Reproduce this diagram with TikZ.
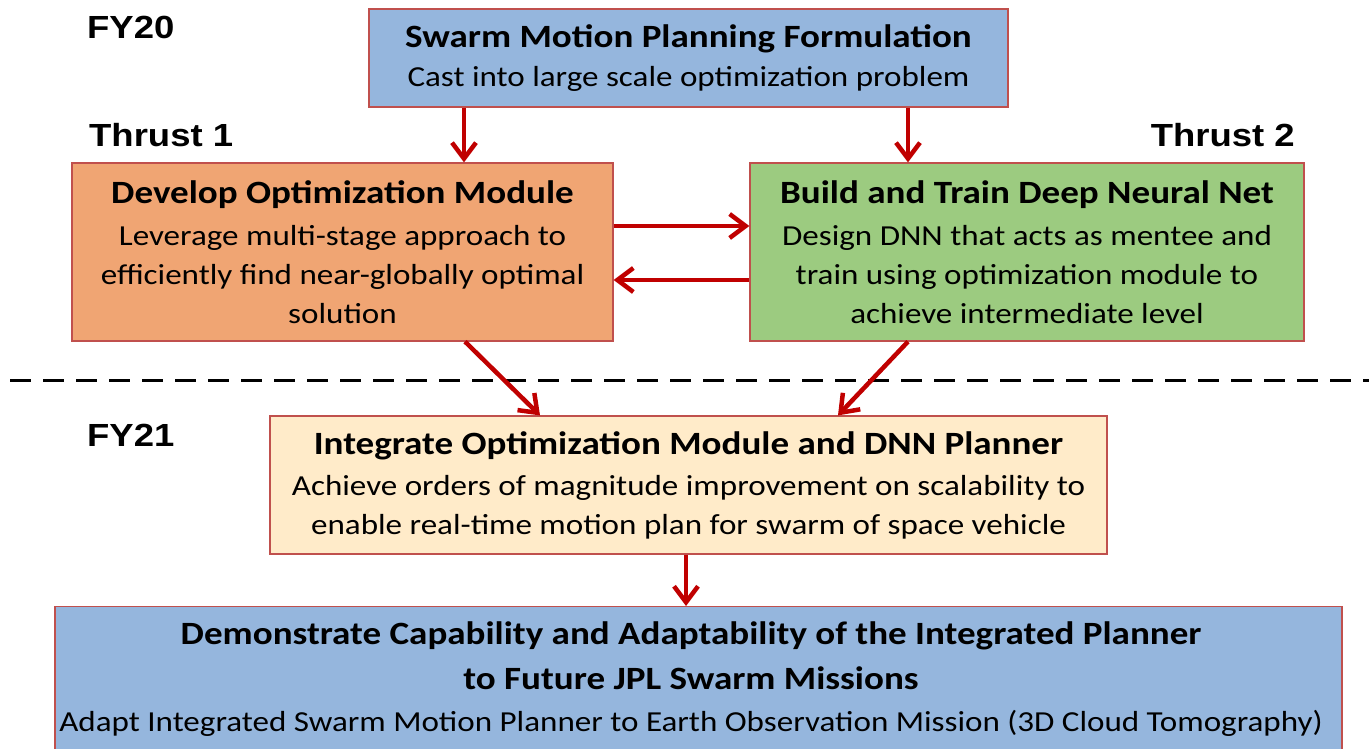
\documentclass[tikz,border=0pt]{standalone}
\usepackage{fontspec}
\setmainfont{Carlito}[FakeStretch=1.14]
\newfontfamily\labelfont{Liberation Sans}[FakeStretch=1.14]
\usetikzlibrary{arrows.meta}

\definecolor{boxblue}{HTML}{95B6DD}
\definecolor{boxorange}{HTML}{F0A573}
\definecolor{boxgreen}{HTML}{9CCB80}
\definecolor{boxcream}{HTML}{FFEBC9}
\definecolor{edgered}{HTML}{C0504D}
\definecolor{arrowred}{HTML}{C00000}

\newcommand{\headline}[1]{\textbf{\fontsize{32.5}{39}\selectfont #1}}

\tikzset{
  x=1pt, y=-1pt,
  stage/.style={draw=edgered, line width=1.2pt, inner sep=0pt, align=center,
    font=\fontsize{29}{39}\selectfont},
  flow/.style={draw=arrowred, line width=4.5pt,
    -{Straight Barb[length=16pt, width=24pt, line width=4.5pt]}},
  tag/.style={font=\labelfont\bfseries\fontsize{32}{32}\selectfont, inner sep=0pt}
}

\begin{document}
\begin{tikzpicture}
\useasboundingbox (0,0) rectangle (1369,749);
\clip (0,0) rectangle (1369,749);

% stage boxes
\node[stage, fill=boxblue, minimum width=639pt, minimum height=98pt] (form) at (688.5,58)
  {\headline{Swarm Motion Planning Formulation}\\Cast into large scale optimization problem};
\node[stage, fill=boxorange, minimum width=541pt, minimum height=178pt] (opt) at (342.5,252)
  {\headline{Develop Optimization Module}\\[3pt]Leverage multi-stage approach to\\efficiently find near-globally optimal\\solution};
\node[stage, fill=boxgreen, minimum width=554pt, minimum height=178pt] (dnn) at (1027,252)
  {\headline{Build and Train Deep Neural Net}\\[3pt]Design DNN that acts as mentee and\\train using optimization module to\\achieve intermediate level};
\node[stage, fill=boxcream, minimum width=837pt, minimum height=138pt] (integ) at (688.5,485)
  {\headline{Integrate Optimization Module and DNN Planner}\\[2pt]Achieve orders of magnitude improvement on scalability to\\enable real-time motion plan for swarm of space vehicle};
\node[stage, fill=boxblue, minimum width=1287pt, minimum height=160pt, anchor=north] (demo) at (698.5,606) {};
\node[align=center, inner sep=0pt, font=\fontsize{29}{42}\selectfont] (demotext) at (691,679)
  {\headline{Demonstrate Capability and Adaptability of the Integrated Planner}\\[3pt]
   \headline{to Future JPL Swarm Missions}\\
   Adapt Integrated Swarm Motion Planner to Earth Observation Mission (3D Cloud Tomography)};

% period and thrust labels
\node[tag, anchor=west] (fy20) at (87,27) {FY20};
\node[tag, anchor=west] (fy21) at (87,435) {FY21};
\node[tag, anchor=west] (t1) at (89,135) {Thrust 1};
\node[tag, anchor=east] (t2) at (1295,135) {Thrust 2};

% separator between the two fiscal years
\coordinate (sepL) at (10,380);
\coordinate (sepR) at (1369,380);
\draw[line width=3pt, dash pattern=on 21pt off 12pt] (sepL) -- (sepR);

% connectors
\draw[flow] (form.south -| 464,0) -- (opt.north -| 464,0);
\draw[flow] (form.south -| 908,0) -- (dnn.north -| 908,0);
\draw[flow] (opt.east |- 0,226) -- (dnn.west |- 0,226);
\draw[flow] (dnn.west |- 0,280) -- (opt.east |- 0,280);
\draw[flow] (opt.south -| 465,0) -- (integ.north -| 540,0);
\draw[flow] (dnn.south -| 908,0) -- (integ.north -| 838,0);
\draw[flow] (integ.south -| 686,0) -- (demo.north -| 686,0);
\end{tikzpicture}
\end{document}
